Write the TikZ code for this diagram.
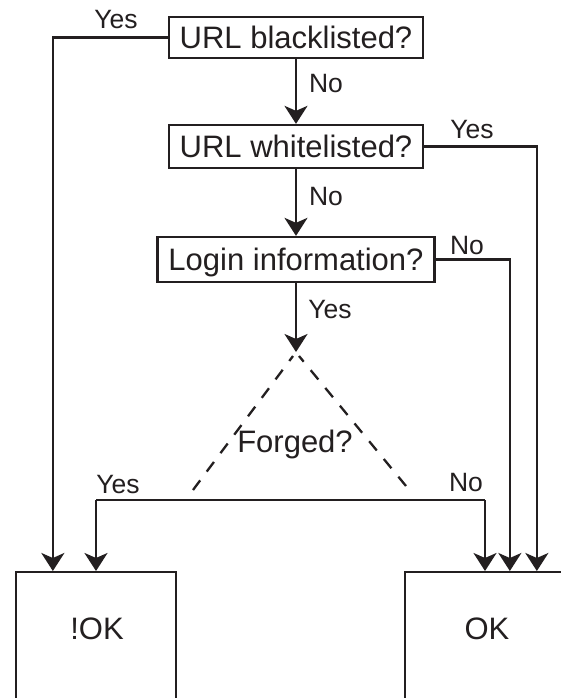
\documentclass[tikz,border=0pt]{standalone}
\usepackage{fontspec}
\setmainfont{Liberation Sans}
\usetikzlibrary{arrows.meta,calc}
\definecolor{ink}{RGB}{35,31,32}
\begin{document}
\begin{tikzpicture}[x=1pt,y=-1pt,
  every node/.style={text=ink},
  qbox/.style={draw=ink, line width=2.3pt, inner xsep=11pt, inner ysep=0pt,
    text height=22.5pt, text depth=0pt, font=\fontsize{31}{37}\selectfont},
  endbox/.style={draw=ink, line width=2.3pt, anchor=north, minimum width=160pt,
    minimum height=150pt, inner sep=0pt},
  lbl/.style={font=\fontsize{26.5}{30}\selectfont, inner sep=0pt},
  big/.style={font=\fontsize{31}{37}\selectfont, inner sep=0pt},
  conn/.style={draw=ink, line width=2.3pt},
  arr/.style={conn, -{Stealth[length=18pt, width=23pt, inset=5pt]}},
  dashline/.style={draw=ink, line width=2.3pt, dash pattern=on 12pt off 11pt}]
\useasboundingbox (0,0) rectangle (561,698);
\clip (0,0) rectangle (561,698);
\fill[white] (0,0) rectangle (561,698);

% question boxes
\node[qbox, minimum height=41pt] (b1) at (296,37.5) {URL blacklisted?};
\node[qbox, minimum height=43pt] (b2) at (296,146.5) {URL whitelisted?};
\node[qbox, minimum height=45pt] (b3) at (296,259.5) {Login information?};

% end boxes
\node[endbox, label={[big, anchor=center, yshift=-58pt, xshift=1pt]north:!OK}] (nok) at (96,571) {};
\node[endbox, label={[big, anchor=center, yshift=-58pt, xshift=2pt]north:OK}] (ok) at (485,571) {};

% forged triangle
\coordinate (apex) at (296,352);
\coordinate (tl) at (193,490);
\coordinate (tr) at (406,486);
\draw[dashline] (tl) -- ([shift={(-3pt,-4pt)}]apex);
\draw[dashline] (tr) -- ([shift={(3pt,-4pt)}]apex);
\node[big] (forged) at (295,444) {Forged?};

% connectors
\draw[arr] (b1.south) -- (b2.north);
\draw[arr] (b2.south) -- (b3.north);
\draw[arr] (b3.south) -- (apex);
\draw[arr] (b1.west) -| ([xshift=38pt]nok.north west);
\draw[arr] (b2.east) -| ([xshift=133pt]ok.north west);
\draw[arr] (b3.east) -| ([xshift=106pt]ok.north west);
\coordinate (fl) at (96,500);
\coordinate (fr) at (485,500);
\draw[conn] (fl) -- (fr);
\draw[arr] (fl) -- (fl |- nok.north);
\draw[arr] (fr) -- (fr |- ok.north);

% labels
\node[lbl] (l1) at (116,20) {Yes};
\node[lbl] (l2) at (326,84) {No};
\node[lbl] (l3) at (472,130) {Yes};
\node[lbl] (l4) at (326,197) {No};
\node[lbl] (l5) at (467,246) {No};
\node[lbl] (l6) at (330,310) {Yes};
\node[lbl] (l7) at (118,485) {Yes};
\node[lbl] (l8) at (466,483) {No};
\end{tikzpicture}
\end{document}
